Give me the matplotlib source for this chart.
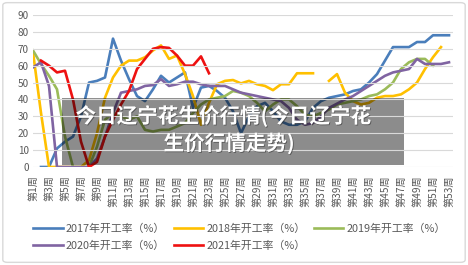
import numpy as np
import matplotlib
matplotlib.use("Agg")
import matplotlib.pyplot as plt
from matplotlib.patches import FancyBboxPatch, Rectangle
import matplotlib.patheffects as pe

plt.rcParams['font.family'] = ['Noto Sans CJK SC', 'DejaVu Sans']

nan = np.nan
weeks = np.arange(1, 54)

# 开工率 (%) by week
rate_2017 = [nan, 0, 0, 11, 15, 18, 30, 50, 51, 53,
             76, 63, 52, 42, 39, 46, 54, 50, 53, 56,
             35, 47, 48, 45, 41, 33, 20, 30, 36, 38,
             33, 27, 25, 25, 27, 35, 39, 41, 42, 43,
             45, 46, 50, 55, 63, 71, 71, 71, 74, 74,
             78, 78, 78]
rate_2018 = [68, 32, 0, 0, 0, 0, 0, 4, 20, 41,
             53, 60, 63, 63, 65, 69, 72, 64, 66, 55,
             42, 25, 38, 49, 51, 51.5, 49.5, 51, 49, 48,
             45.5, 49, 49, 55.5, 55.5, 55.5, nan, 51, 55, 44,
             39, 37, 38, 41, 42, 42, 43, 46, 50, 58,
             65, 71, nan]
rate_2019 = [69, 61, 54, 46, 18, 0, 0, 0, 12, 28,
             32, 30, 28, 30, 22, 21, 22, 22, 24, 26,
             32, 37, 40, 41, 42, 45, 44, 42, 38, 33,
             37, 40, 40, 36, 31, 30, 32, 34, 37, 38,
             39, 40, 42, 43, 46, 50, 58, 62, 64, 64,
             60, nan, nan]
rate_2020 = [59, 62, 48, 0, 0, 0, 0, 0, 5, 18,
             32, 44, 45, 46, 48, 48.5, 52, 48, 49, 50.5,
             50.5, 49, 48, 48, 48, 46, 44, 43, 42, 41,
             40, 39, 35, 28, 25, 26, 30, 35, 37.5, 40,
             42, 45, 48, 51, 54, 56, 57, 58, 64, 61,
             61, 61, 62]
rate_2021 = [nan, 63, 60, 56, 57, 40, 15, 0, 3, 18,
             28, 37, 45, 58, 64, 70, 71, 70.5, 66, 60,
             60, 65.5, 55.5] + [nan] * 30

series = [
    ("2017年开工率（%）", rate_2017, "#4A7EBB"),
    ("2018年开工率（%）", rate_2018, "#FFC000"),
    ("2019年开工率（%）", rate_2019, "#9BBB59"),
    ("2020年开工率（%）", rate_2020, "#8064A2"),
    ("2021年开工率（%）", rate_2021, "#EE1111"),
]

fig = plt.figure(figsize=(4.68, 2.65), dpi=100)
ax = fig.add_axes([33 / 468, 1 - 167 / 265, 420 / 468, 152 / 265])

lines = {}
for name, vals, col in series:
    ln, = ax.plot(weeks, np.array(vals, dtype=float), color=col, lw=1.9,
                  solid_joinstyle='round', label=name, zorder=2)
    lines[name] = ln

ax.set_xlim(1, 53.5)
ax.set_ylim(0, 90)
ax.set_yticks(range(0, 91, 10))
ax.set_xticks(weeks[::2])
ax.set_xticklabels([f"第{w}周" for w in weeks[::2]], rotation=90, fontsize=7.3,
                   color="#595959")
ax.tick_params(axis='y', length=0, pad=3, labelsize=7.2, labelcolor="#595959")
ax.tick_params(axis='x', length=0, pad=6)
ax.grid(axis='y', color="#D9D9D9", lw=0.8)
ax.set_axisbelow(False)
for s in ax.spines.values():
    s.set_visible(False)

# grey caption box over the plot
ax.add_patch(Rectangle((29 / 420, 2 / 152), 342 / 420, 67 / 152,
                       transform=ax.transAxes, facecolor="black", alpha=0.45,
                       edgecolor="none", zorder=2.2))
shadow = [pe.withSimplePatchShadow(offset=(0.6, -0.6), shadow_rgbFace="#333333", alpha=0.6)]
fig.text(223 / 468, 1 - 116 / 265, "今日辽宁花生价行情(今日辽宁花", color="white",
         fontsize=14.8, fontweight='bold', ha='center', va='center',
         path_effects=shadow)
fig.text(229 / 468, 1 - 143.5 / 265, "生价行情走势)", color="white",
         fontsize=14.8, fontweight='bold', ha='center', va='center',
         path_effects=shadow)

order = ["2017年开工率（%）", "2020年开工率（%）", "2018年开工率（%）",
         "2021年开工率（%）", "2019年开工率（%）"]
fig.legend([lines[k] for k in order], order, ncol=3, loc='upper left',
           bbox_to_anchor=(28 / 468, 1 - 218 / 265), frameon=False,
           fontsize=7.8, handlelength=2.7, handletextpad=0.3,
           columnspacing=0.8, labelspacing=0.6, borderpad=0,
           labelcolor="#595959")

fig.patches.append(FancyBboxPatch((0.006, 0.01), 0.988, 0.98,
                                  boxstyle="round,pad=0,rounding_size=0.01",
                                  transform=fig.transFigure, facecolor="none",
                                  edgecolor="#D9D9D9", lw=1))

fig.savefig("out.png", dpi=100)
